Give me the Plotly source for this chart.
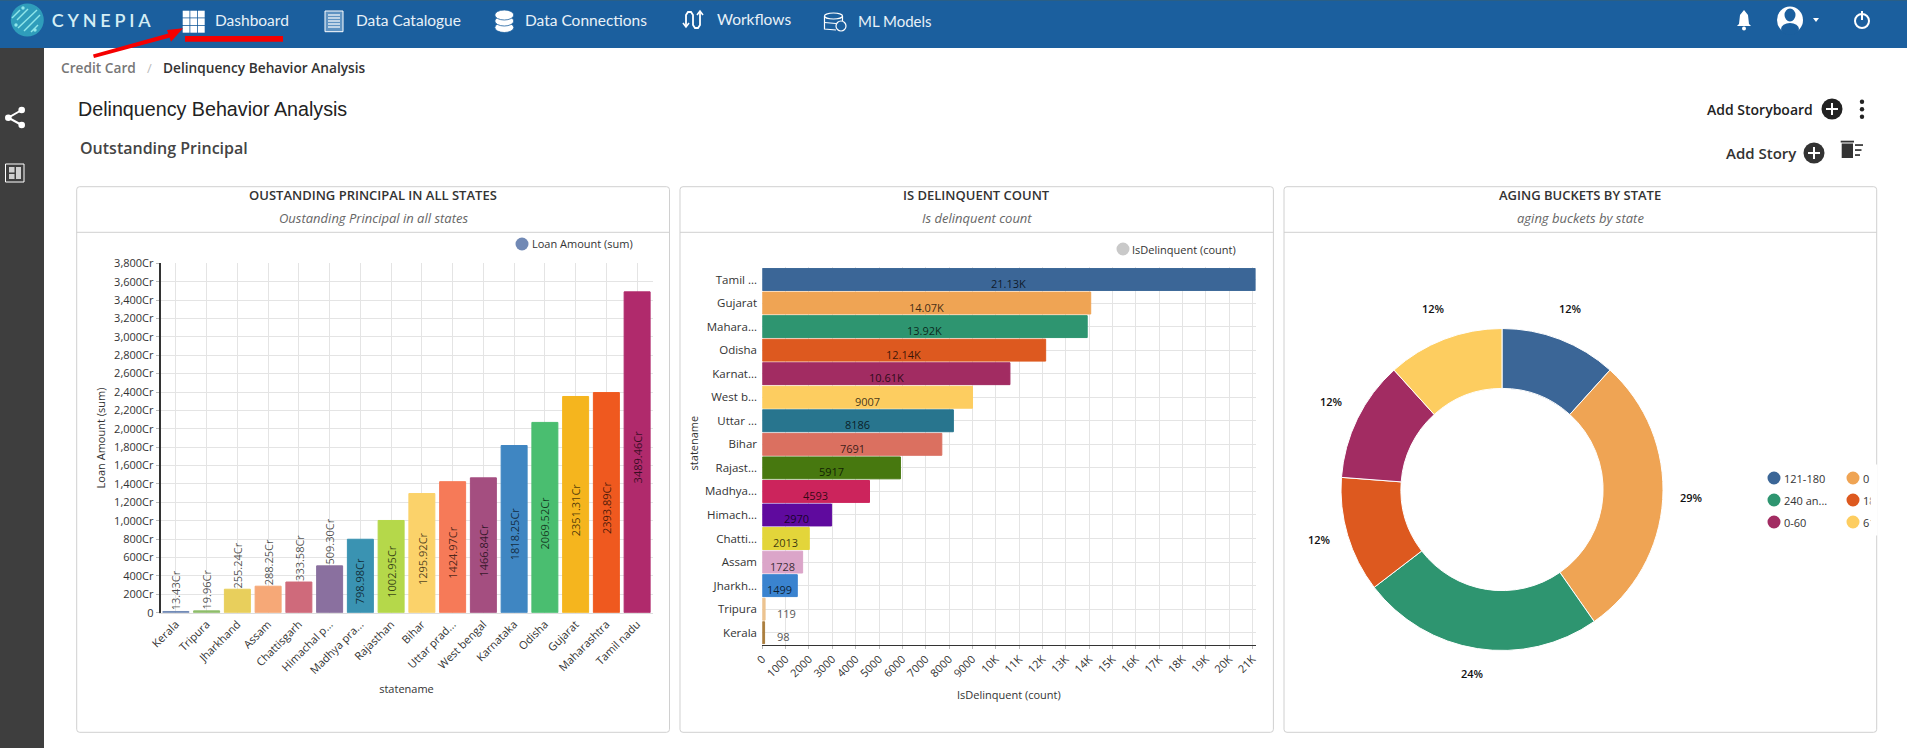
import math
import plotly.graph_objects as go

W, H = 1907, 748
FONT = "Open Sans"
NAV = "#1b5f9e"

# chart 1 data
states = ["Kerala", "Tripura", "Jharkhand", "Assam", "Chattisgarh", "Himachal p...", "Madhya pra...", "Rajasthan",
          "Bihar", "Uttar prad...", "West bengal", "Karnataka", "Odisha", "Gujarat", "Maharashtra", "Tamil nadu"]
loan_amount = [13.43, 19.96, 255.24, 288.25, 333.58, 509.30, 798.98, 1002.95,
               1295.92, 1424.97, 1466.84, 1818.25, 2069.52, 2351.31, 2393.89, 3489.46]
loan_colors = ["#7189b5", "#8fbd6b", "#e8cf5c", "#f6a877", "#cf6a7b", "#8a709f", "#3a93b2", "#b5d84a",
               "#fbd26a", "#f67a58", "#a44e80", "#3f86c2", "#4abe70", "#f5b51e", "#ef591f", "#b02a6c"]
loan_ticks = list(range(0, 3801, 200))

# chart 2 data
delinq_states = ["Tamil ...", "Gujarat", "Mahara...", "Odisha", "Karnat...", "West b...", "Uttar ...", "Bihar",
                 "Rajast...", "Madhya...", "Himach...", "Chatti...", "Assam", "Jharkh...", "Tripura", "Kerala"]
delinq_count = [21130, 14070, 13920, 12140, 10610, 9007, 8186, 7691, 5917, 4593, 2970, 2013, 1728, 1499, 119, 98]
delinq_labels = ["21.13K", "14.07K", "13.92K", "12.14K", "10.61K", "9007", "8186", "7691",
                 "5917", "4593", "2970", "2013", "1728", "1499", "119", "98"]
delinq_colors = ["#3b6697", "#efa454", "#2e9570", "#dd591f", "#a22c62", "#fdcd60", "#28758e", "#db7060",
                 "#47780f", "#cc245c", "#5f0a9e", "#e3d53a", "#dba5c9", "#3a83cf", "#ecc390", "#ab7e3d"]
delinq_ticks = list(range(0, 21001, 1000))

# chart 3 data
buckets = ["121-180", "0", "240 and above", "181-240", "0-60", "61-120"]
bucket_share = [11.7, 28.6, 24.3, 11.6, 12.1, 11.7]
bucket_colors = ["#3b6697", "#efa454", "#2e9570", "#dd591f", "#a22c62", "#fdcd60"]
bucket_legend = ["121-180", "0", "240 an...", "18", "0-60", "61"]


def fx(x):
    return x / W


def fy(y):
    return 1 - y / H


shapes = []
notes = []


def rect(x0, y0, x1, y1, fill, line=None):
    shapes.append(dict(type="rect", xref="paper", yref="paper", x0=fx(x0), x1=fx(x1), y0=fy(y0), y1=fy(y1),
                       fillcolor=fill, line=dict(color=line or fill, width=1 if line else 0), layer="below"))


def dot(cx, cy, rx, fill, ry=None, line=None, lw=1.5):
    ry = ry or rx
    shapes.append(dict(type="circle", xref="paper", yref="paper", x0=fx(cx - rx), x1=fx(cx + rx),
                       y0=fy(cy - ry), y1=fy(cy + ry), fillcolor=fill,
                       line=dict(color=line or fill, width=lw if line else 0)))


def poly(points, fill=None, line=None, lw=1.5, close=True):
    d = "M" + " L".join(f"{fx(x):.5f},{fy(y):.5f}" for x, y in points) + (" Z" if close else "")
    shapes.append(dict(type="path", xref="paper", yref="paper", path=d, fillcolor=fill or "rgba(0,0,0,0)",
                       line=dict(color=line or "rgba(0,0,0,0)", width=lw if line else 0)))


def round_box(x0, y0, x1, y1, r=3):
    p = [f"M{fx(x0 + r):.5f},{fy(y0):.5f}", f"L{fx(x1 - r):.5f},{fy(y0):.5f}",
         f"Q{fx(x1):.5f},{fy(y0):.5f} {fx(x1):.5f},{fy(y0 + r):.5f}", f"L{fx(x1):.5f},{fy(y1 - r):.5f}",
         f"Q{fx(x1):.5f},{fy(y1):.5f} {fx(x1 - r):.5f},{fy(y1):.5f}", f"L{fx(x0 + r):.5f},{fy(y1):.5f}",
         f"Q{fx(x0):.5f},{fy(y1):.5f} {fx(x0):.5f},{fy(y1 - r):.5f}", f"L{fx(x0):.5f},{fy(y0 + r):.5f}",
         f"Q{fx(x0):.5f},{fy(y0):.5f} {fx(x0 + r):.5f},{fy(y0):.5f} Z"]
    shapes.append(dict(type="path", xref="paper", yref="paper", path=" ".join(p), fillcolor="white",
                       line=dict(color="#d0d0d0", width=1), layer="below"))


def note(x, y, text, size=11, color="#333", anchor="left", weight=None, style=None, family=FONT, angle=0):
    notes.append(dict(xref="paper", yref="paper", x=fx(x), y=fy(y), text=text, showarrow=False, xanchor=anchor,
                      yanchor="middle", borderpad=0, textangle=angle,
                      font=dict(family=family, size=size, color=color, weight=weight, style=style)))


# page furniture
rect(0, 0, W, 48, NAV)
rect(0, 0, W, 1, "#2a5f86")
rect(0, 48, 44, H, "#3e3e3e")

# logo
dot(27.3, 20, 16.5, "#2f9dbb")
for x0, y0, x1, y1 in [(17, 20, 28, 9), (18, 28, 37, 10), (24, 31, 40, 15), (12, 18, 20, 10), (31, 32, 38, 25)]:
    poly([(x0, y0), (x1, y1)], line="#8fe6ea", lw=1.4, close=False)
for px, py in [(16, 25), (35, 30), (23, 8)]:
    dot(px, py, 1.7, "#8fe6ea")
note(64, 20.5, "CYNEPIA", 18, "#d4eef5", family="Lato", weight=600)

# dashboard icon
for i in range(3):
    for j in range(3):
        rect(182.7 + i * 7.6, 10.7 + j * 7.6, 189.5 + i * 7.6, 17.5 + j * 7.6, "white")
note(214, 20, "Dashboard", 15.5, "#e8f1f8", family="Lato")
# catalogue icon
rect(325, 11, 343, 31.7, "#5f93c2", line="white")
for yy in (15, 18, 21, 24, 27):
    poly([(328, yy), (340, yy)], line="white", lw=1.2, close=False)
note(354.5, 20, "Data Catalogue", 15.5, "#e8f1f8", family="Lato")
# connections icon
for yy in (27.5, 21, 15):
    dot(504.3, yy, 9.5, "white", ry=5, line=NAV, lw=0.8)
note(524, 20, "Data Connections", 15.5, "#e8f1f8", family="Lato")
# workflows icon
poly([(686, 26), (686, 15), (688, 12), (691, 12), (693, 15), (693, 25), (695, 28), (698, 28), (700, 25), (700, 12)],
     line="white", lw=1.8, close=False)
poly([(683, 23), (686, 27), (689, 23)], line="white", lw=1.6, close=False)
poly([(697, 15), (700, 11), (703, 15)], line="white", lw=1.6, close=False)
note(716, 19, "Workflows", 15.5, "#e8f1f8", family="Lato")
# ml models icon
dot(833.5, 16, 9, NAV, ry=3, line="white", lw=1.2)
poly([(824.5, 16), (824.5, 29), (836, 30)], line="white", lw=1.2, close=False)
poly([(842.5, 16), (842.5, 21)], line="white", lw=1.2, close=False)
poly([(824.5, 22.5), (836, 23.5)], line="white", lw=1.2, close=False)
dot(841, 26, 5, NAV, line="white", lw=1.2)
note(857, 21, "ML Models", 15, "#e8f1f8", family="Lato")

# top right icons
poly([(1744, 10), (1748, 15), (1749, 24), (1751, 26), (1737, 26), (1739, 24), (1740, 15)], fill="white")
dot(1744, 28.5, 2, "white")
dot(1790, 20, 13, "white", ry=13.5)
dot(1790, 15, 5.5, NAV, ry=6.5)
dot(1790, 29, 9, NAV, ry=6)
poly([(1813, 18), (1819, 18), (1816, 22)], fill="white")
dot(1862, 21, 7, NAV, line="white", lw=2)
rect(1859, 9, 1865, 18, NAV)
poly([(1862, 11), (1862, 20)], line="white", lw=2, close=False)

# sidebar icons
poly([(21.7, 110), (8.3, 117.7), (21.7, 125)], line="white", lw=2, close=False)
dot(21.7, 110, 3.3, "white")
dot(8.3, 117.7, 3.3, "white")
dot(21.7, 125, 3.3, "white")
rect(5.5, 164, 24, 182, "#3e3e3e", line="white")
rect(9, 167, 14.5, 172.5, "#cfcfcf")
rect(9, 174, 14.5, 179, "#cfcfcf")
rect(16, 167, 21, 179, "#cfcfcf")

# red markup
rect(185, 36, 283, 41.7, "#f50000")
poly([(93, 54.5), (170, 33), (172, 37), (94, 58)], fill="#f50000")
poly([(183, 28.3), (167, 30), (171, 41.7)], fill="#f50000")

# headings
note(60, 67.7, "Credit Card", 13.7, "#777", weight=600)
note(149, 67.7, "/", 13, "#bbb", anchor="center")
note(162, 67.7, "Delinquency Behavior Analysis", 13.7, "#333", weight=600)
note(77, 109, "Delinquency Behavior Analysis", 19.7, "#222", family="Liberation Sans")
note(79, 148, "Outstanding Principal", 16, "#444", weight=600)

note(1706, 109, "Add Storyboard", 14, "#222", weight=600)
dot(1832, 109, 10.5, "#222")
poly([(1826, 109), (1838, 109)], line="white", lw=2, close=False)
poly([(1832, 103), (1832, 115)], line="white", lw=2, close=False)
for yy in (101.7, 109.3, 116.7):
    dot(1862, yy, 2.2, "#222")
note(1725, 153, "Add Story", 15, "#333", weight=600)
dot(1814, 153, 10.5, "#333")
poly([(1808, 153), (1820, 153)], line="white", lw=2, close=False)
poly([(1814, 147), (1814, 159)], line="white", lw=2, close=False)
rect(1841.7, 143.5, 1853, 158, "#333")
rect(1840.7, 140.7, 1854, 142.5, "#333")
rect(1855, 144.2, 1863, 145.9, "#333")
rect(1855, 149.2, 1861.5, 150.9, "#333")
rect(1855, 154.2, 1860, 155.9, "#333")

# cards
card_boxes = [(76.7, 669.5), (680, 1273.4), (1284, 1876.7)]
card_titles = ["OUSTANDING PRINCIPAL IN ALL STATES", "IS DELINQUENT COUNT", "AGING BUCKETS BY STATE"]
card_subs = ["Oustanding Principal in all states", "Is delinquent count", "aging buckets by state"]
for (left, right), title, sub in zip(card_boxes, card_titles, card_subs):
    round_box(left, 186.7, right, 732.3)
    poly([(left, 232.3), (right, 232.3)], line="#d0d0d0", lw=1, close=False)
    note((left + right) / 2, 195, title, 13, "#333", anchor="center", weight=600)
    note((left + right) / 2, 218, sub, 13, "#666", anchor="center", style="italic")

# legends
dot(522, 244, 6.5, "#7189b5")
note(530.6, 244, "Loan Amount (sum)", 11)
dot(1123, 249, 6.5, "#c9c9c9")
note(1131, 249, "IsDelinquent (count)", 11)
for i, name in enumerate(bucket_legend):
    lx = 1774 if i % 2 == 0 else 1853
    ly = 478 + 22 * (i // 2)
    dot(lx, ly, 6.5, bucket_colors[i])
    note(lx + 9, ly, name, 11)
# the legend runs off its box on the right
notes.append(dict(xref="paper", yref="paper", x=fx(1870), y=fy(500), text=" ", showarrow=False, xanchor="left",
                  yanchor="middle", width=6, height=70, bgcolor="white", borderpad=0))

# donut labels, placed from the slice shares
cx, cy, outer = 1502, 489.5, 161
total = sum(bucket_share)
running = 0
for share in bucket_share:
    mid = (running + share / 2) / total * 2 * math.pi
    running += share
    note(cx + 190 * math.sin(mid), cy - 4 - 190 * math.cos(mid), f"{round(share / total * 100)}%", 11, "#111",
         anchor="center", weight=600)

# value labels sit a few pixels below the bar centre in the original
for cat, val in zip(states, loan_amount):
    fits = val >= 600
    notes.append(dict(xref="x", yref="y", x=cat, y=val / 2 if fits else val, text=f"{val:.2f}Cr", showarrow=False,
                      textangle=-90, yanchor="middle" if fits else "bottom", yshift=-5 if fits else 0, borderpad=0,
                      font=dict(family=FONT, size=11, color="rgba(0,0,0,0.7)")))
for cat, val, lab in zip(delinq_states, delinq_count, delinq_labels):
    small = val < 500
    notes.append(dict(xref="x2", yref="y2", x=val if small else val / 2, y=cat, text=lab, showarrow=False,
                      xanchor="left" if small else "center", xshift=11 if small else 0, yshift=-4,
                      borderpad=0, font=dict(family=FONT, size=11, color="#555" if small else "rgba(0,0,0,0.75)")))
note(693.4, 443, "statename", 11, anchor="center", angle=-90)

fig = go.Figure()
fig.add_trace(go.Bar(
    x=states, y=loan_amount, marker=dict(color=loan_colors, line=dict(color=loan_colors, width=1)),
    hoverinfo="x+y", showlegend=False, name="Loan Amount (sum)",
))
fig.add_trace(go.Bar(
    x=delinq_count, y=delinq_states, orientation="h", xaxis="x2", yaxis="y2", width=0.93,
    marker=dict(color=delinq_colors, line=dict(color=delinq_colors, width=1)),
    hoverinfo="x+y", showlegend=False, name="IsDelinquent (count)",
))
fig.add_trace(go.Pie(
    labels=buckets, values=bucket_share, hole=0.628, sort=False, direction="clockwise", rotation=0,
    marker=dict(colors=bucket_colors, line=dict(color="white", width=1)), textinfo="none", showlegend=False,
    domain=dict(x=[fx(cx - outer), fx(cx + outer)], y=[fy(cy + outer), fy(cy - outer)]),
))

grid = "#e4e4e4"
tick_font = dict(family=FONT, size=11, color="#333")
title_font = dict(family=FONT, size=11, color="#333")
fig.update_layout(
    width=W, height=H, margin=dict(l=0, r=0, t=0, b=0, autoexpand=False), paper_bgcolor="white",
    plot_bgcolor="rgba(0,0,0,0)", bargap=0.155, font=dict(family=FONT),
    shapes=shapes, annotations=notes,
    xaxis=dict(domain=[fx(160.5), fx(652.5)], anchor="y", tickangle=-45, tickfont=tick_font, showgrid=True,
               gridcolor=grid, linecolor="#ddd", ticks="", fixedrange=True,
               title=dict(text="statename", font=title_font, standoff=9)),
    yaxis=dict(domain=[fy(612.7), fy(263.3)], anchor="x", range=[0, 3800], tickvals=loan_ticks,
               ticktext=[f"{v:,}Cr" if v else "0" for v in loan_ticks], tickfont=tick_font, showgrid=True,
               gridcolor=grid, showline=True, linecolor="#333", linewidth=1.5, ticks="outside", ticklen=3,
               tickcolor="#bbb", zeroline=False, fixedrange=True,
               title=dict(text="Loan Amount (sum)", font=title_font, standoff=6)),
    xaxis2=dict(domain=[fx(762.3), fx(1255.5)], anchor="y2", range=[0, 21130], tickvals=delinq_ticks,
                ticktext=[f"{v // 1000}K" if v >= 10000 else str(v) for v in delinq_ticks], tickangle=-45,
                tickfont=tick_font, showgrid=True, gridcolor=grid, showline=True, linecolor="#333", linewidth=1,
                zeroline=False, ticks="outside", ticklen=3, tickcolor="#bbb", fixedrange=True,
                title=dict(text="IsDelinquent (count)", font=title_font, standoff=12)),
    yaxis2=dict(domain=[fy(644.5), fy(267)], anchor="x2", categoryorder="array", categoryarray=delinq_states,
                autorange="reversed", tickfont=dict(family=FONT, size=11.5, color="#333"), showgrid=True,
                gridcolor=grid, ticks="outside", ticklen=2, tickcolor="rgba(0,0,0,0)", fixedrange=True),
)

# zero body margin so the page lines up with the window, letter spacing for the logo text
post = """
document.body.style.margin = '0';
document.body.style.overflow = 'hidden';
document.querySelectorAll('.annotation-text').forEach(function (t) {
    if (t.textContent === 'CYNEPIA') { t.style.letterSpacing = '3.8px'; }
});
"""
fig.write_html("out.html", config={"displayModeBar": False}, post_script=post)
